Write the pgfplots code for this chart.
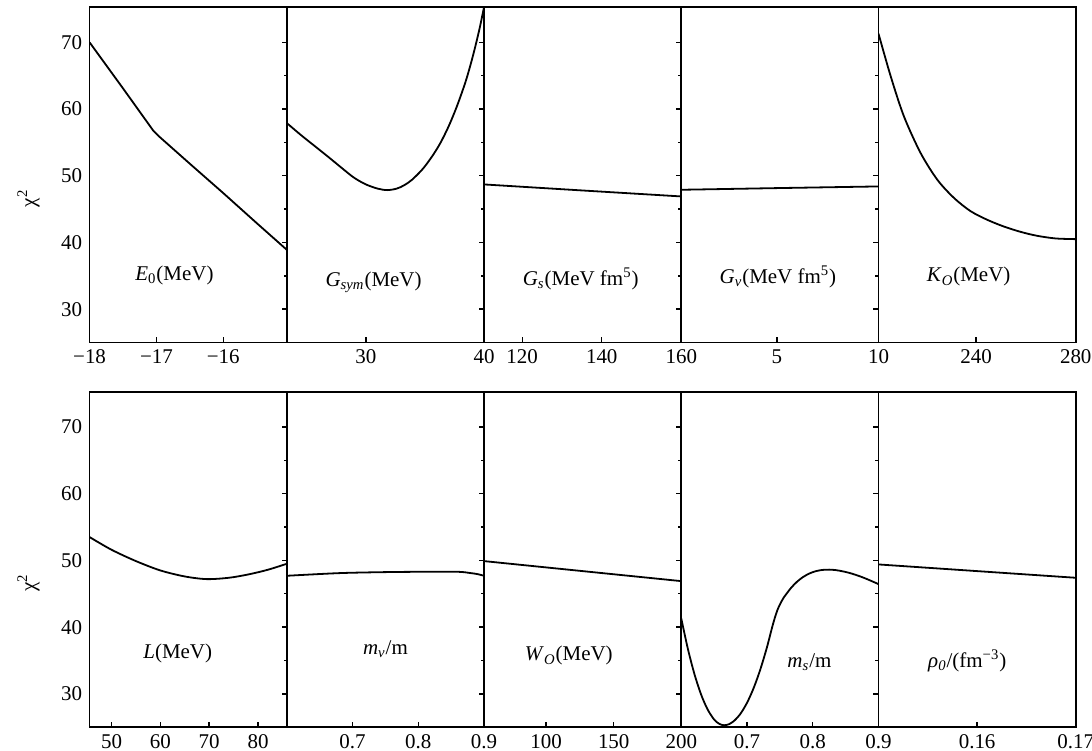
\documentclass[border=0pt]{standalone}
\usepackage{fontspec}
\setmainfont{Liberation Serif}
\usepackage{pgfplots}
\pgfplotsset{compat=1.18}
\usepgfplotslibrary{groupplots}
\usetikzlibrary{calc}

\pgfplotsset{
  panel/.style={
    scale only axis, width=98.75pt, height=168pt,
    ymin=25, ymax=75.3,
    ytick={30,40,50,60,70}, minor ytick={35,45,55,65},
    tick align=inside, xtick pos=left, ytick pos=right,
    yticklabels={},
    major tick length=2.6pt, minor tick length=1.6pt,
    axis line style={line width=0.9pt},
    every tick/.style={line width=0.7pt, black},
    cycle list={{black, line width=0.9pt}},
    every axis plot/.append style={line width=0.9pt, black, no markers},
  },
  firstcol/.style={
    yticklabel pos=left, yticklabels={30,40,50,60,70},
    ylabel={χ\textsuperscript{2}},
    ylabel style={at={(rel axis cs:-0.31,0.43)}, anchor=center},
  },
  lastcol/.style={ytick=\empty, minor ytick=\empty},
}

\begin{document}
\fontsize{10.5}{12.6}\selectfont
\begin{tikzpicture}
\begin{groupplot}[group style={group size=5 by 2, horizontal sep=0pt, vertical sep=24.6pt}, panel]

% ---- top row ----
\nextgroupplot[firstcol, xmin=-18, xmax=-15.05, xtick={-18,-17,-16}, xticklabels={−18,−17,−16}]
\addplot[black] coordinates {(-18,70) (-17.5,63.1) (-17.05,56.8) (-16.95,55.8) (-16.5,51.8)
  (-16,47.4) (-15.5,42.9) (-15.05,38.9)};
\node at (rel axis cs:0.43,0.2) {\textit{E}\textsubscript{0}(MeV)};

\nextgroupplot[xmin=23.3, xmax=40, xtick={30,40}, xticklabels={30,40}]
\addplot[smooth] coordinates {(23.3,57.9) (24.5,56.1) (25.7,54.4) (26.9,52.7) (28.0,51.1)
  (29.0,49.7) (30.0,48.7) (31.0,48.07) (31.8,47.85) (32.6,48.07) (33.25,48.59) (33.9,49.4)
  (34.8,51.0) (35.6,52.9) (36.3,54.9) (37.0,57.4) (37.7,60.4) (38.4,63.9) (38.85,66.6)
  (39.25,69.3) (39.65,72.3) (40.0,75.3)};
\node at (rel axis cs:0.44,0.18) {\textit{G}\textsubscript{\textit{sym}}(MeV)};

\nextgroupplot[xmin=110.4, xmax=160, xtick={120,140,160}, xticklabels={120,140,160}]
\addplot[black] coordinates {(110.4,48.7) (135,47.8) (160,46.9)};
\node at (rel axis cs:0.49,0.19) {\textit{G}\textsubscript{\textit{s}}(MeV fm\textsuperscript{5})};

\nextgroupplot[xmin=0.3, xmax=10, xtick={5,10}, xticklabels={5,10}]
\addplot[black] coordinates {(0.3,47.9) (5,48.15) (10,48.4)};
\node at (rel axis cs:0.49,0.196) {\textit{G}\textsubscript{\textit{v}}(MeV fm\textsuperscript{5})};

\nextgroupplot[lastcol, xmin=200.9, xmax=280, xtick={240,280}, xticklabels={240,280}]
\addplot[smooth] coordinates {(200.9,71.3) (205.8,64.9) (211.1,58.9) (217.8,53.4) (224.5,49.4)
  (231.1,46.7) (237.8,44.7) (244.5,43.4) (251.1,42.4) (257.8,41.6) (264.5,41.0) (272,40.6) (280,40.5)};
\node at (rel axis cs:0.457,0.196) {\textit{K}\textsubscript{\textit{O}}(MeV)};

% ---- bottom row ----
\nextgroupplot[firstcol, xmin=45.5, xmax=85.9, xtick={50,60,70,80}, xticklabels={50,60,70,80}]
\addplot[smooth] coordinates {(45.5,53.5) (50,51.6) (55,49.9) (60,48.5) (65,47.6) (69.5,47.2)
  (74,47.4) (78,47.9) (82,48.6) (85.9,49.5)};
\node at (rel axis cs:0.447,0.22) {\textit{L}(MeV)};

\nextgroupplot[xmin=0.6, xmax=0.9, xtick={0.7,0.8,0.9}, xticklabels={0.7,0.8,0.9}]
\addplot[smooth] coordinates {(0.6,47.7) (0.68,48.1) (0.75,48.25) (0.806,48.3) (0.86,48.3)
  (0.88,48.1) (0.89,47.95) (0.9,47.7)};
\node at (rel axis cs:0.5,0.233) {\textit{m}\textsubscript{\textit{v}}/m};

\nextgroupplot[xmin=54, xmax=200, xtick={100,150,200}, xticklabels={100,150,200}]
\addplot[black] coordinates {(54,49.9) (127,48.4) (200,46.9)};
\node at (rel axis cs:0.43,0.213) {\textit{W}\textsubscript{\textit{O}}(MeV)};

\nextgroupplot[xmin=0.6, xmax=0.9, xtick={0.7,0.8,0.9}, xticklabels={0.7,0.8,0.9}]
\addplot[smooth, tension=0.5] coordinates {(0.600,41.3) (0.610,36.76) (0.620,32.97) (0.630,29.94)
  (0.640,27.67) (0.650,26.15) (0.658,25.49) (0.665,25.3) (0.672,25.43) (0.680,25.92)
  (0.690,27.01) (0.700,28.66) (0.710,30.85) (0.720,33.59) (0.730,36.87) (0.738,39.9)
  (0.742,41.3) (0.746,42.5) (0.750,43.4) (0.755,44.3) (0.760,45.0) (0.768,46.0) (0.776,46.8)
  (0.785,47.5) (0.795,48.05) (0.805,48.4) (0.815,48.58) (0.825,48.62) (0.835,48.55)
  (0.845,48.38) (0.855,48.15) (0.865,47.85) (0.875,47.5) (0.885,47.1) (0.900,46.45)};
\node at (rel axis cs:0.65,0.193) {\textit{m}\textsubscript{\textit{s}}/m};

\nextgroupplot[lastcol, xmin=0.15, xmax=0.17, xtick={0.16,0.17}, xticklabels={0.16,0.17}]
\addplot[black] coordinates {(0.15,49.4) (0.16,48.4) (0.17,47.4)};
\node at (rel axis cs:0.45,0.198) {\textit{ρ}\textsubscript{\textit{0}}/(fm\textsuperscript{−3})};

\end{groupplot}
% page margins as in the reference
\pgfresetboundingbox
\path ($(group c1r1.north west)+(-44.85pt,3.5pt)$) rectangle ($(group c5r2.south east)+(8.15pt,-11.85pt)$);
\end{tikzpicture}
\end{document}
